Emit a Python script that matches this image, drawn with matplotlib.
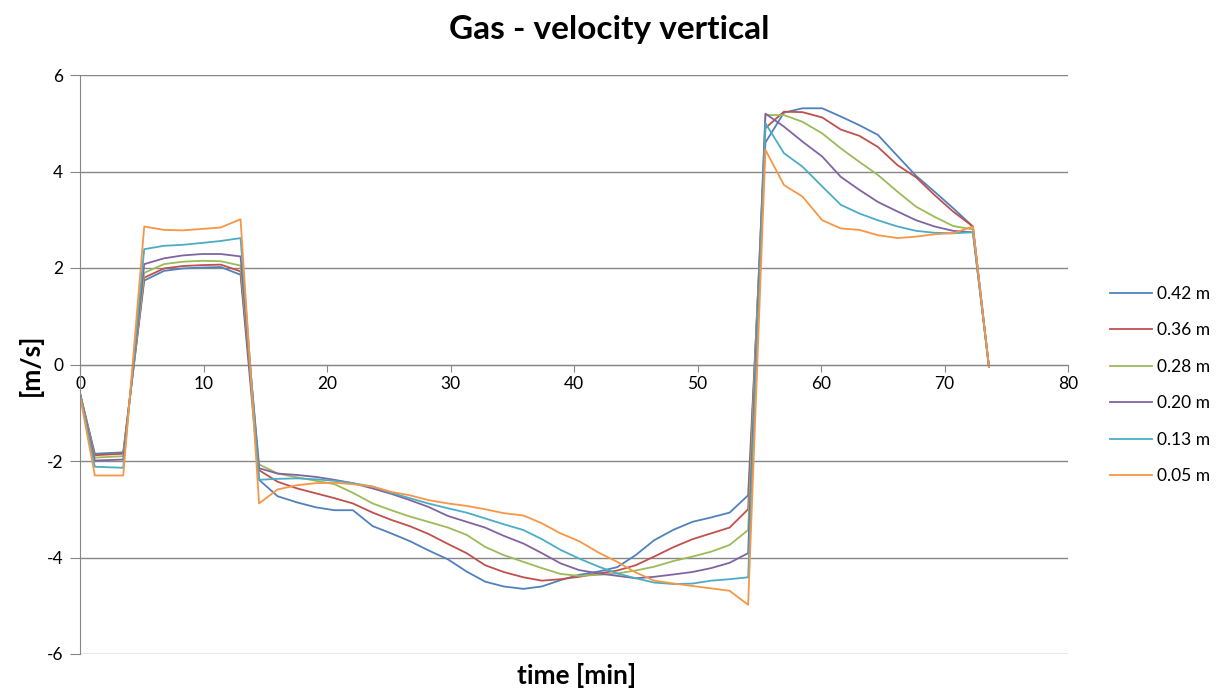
import matplotlib.pyplot as plt

# time [min]
time_min = [0.0, 1.2, 3.5, 5.2, 6.8, 8.3, 9.9, 11.4, 13.0, 14.5,
            16.0, 17.6, 19.1, 20.6, 22.1, 23.7, 25.2, 26.7, 28.2, 29.8,
            31.3, 32.8, 34.3, 35.9, 37.4, 38.9, 40.4, 42.0, 43.5, 45.0,
            46.5, 48.1, 49.6, 51.1, 52.6, 54.1, 55.5, 57.0, 58.5, 60.1,
            61.6, 63.1, 64.6, 66.2, 67.7, 69.2, 70.7, 72.3, 73.6]

v_042 = [-0.6, -1.85, -1.82, 1.74, 1.94, 1.99, 2.01, 2.02, 1.86, -2.39,
         -2.73, -2.86, -2.96, -3.02, -3.02, -3.35, -3.50, -3.66, -3.85, -4.04,
         -4.29, -4.50, -4.60, -4.65, -4.60, -4.47, -4.36, -4.29, -4.20, -3.95,
         -3.64, -3.42, -3.26, -3.17, -3.07, -2.71, 4.60, 5.22, 5.31, 5.31,
         5.14, 4.96, 4.76, 4.32, 3.91, 3.58, 3.24, 2.86, -0.05]

v_036 = [-0.6, -1.88, -1.85, 1.80, 1.99, 2.04, 2.06, 2.07, 1.93, -2.19,
         -2.43, -2.57, -2.67, -2.77, -2.88, -3.07, -3.22, -3.35, -3.51, -3.72,
         -3.91, -4.16, -4.30, -4.41, -4.48, -4.45, -4.40, -4.33, -4.27, -4.16,
         -3.98, -3.78, -3.62, -3.50, -3.38, -3.00, 4.90, 5.24, 5.23, 5.12,
         4.87, 4.74, 4.51, 4.13, 3.88, 3.51, 3.17, 2.86, -0.05]

v_028 = [-0.6, -1.93, -1.90, 1.90, 2.08, 2.13, 2.15, 2.14, 2.05, -2.07,
         -2.26, -2.34, -2.41, -2.48, -2.66, -2.88, -3.02, -3.15, -3.26, -3.38,
         -3.53, -3.78, -3.95, -4.09, -4.22, -4.34, -4.38, -4.36, -4.33, -4.27,
         -4.19, -4.07, -3.98, -3.88, -3.74, -3.43, 5.17, 5.17, 5.03, 4.79,
         4.48, 4.20, 3.93, 3.58, 3.27, 3.06, 2.87, 2.80, -0.05]

v_020 = [-0.6, -1.99, -1.97, 2.08, 2.20, 2.26, 2.29, 2.29, 2.24, -2.15,
         -2.26, -2.29, -2.33, -2.39, -2.46, -2.57, -2.68, -2.81, -2.95, -3.14,
         -3.26, -3.38, -3.55, -3.71, -3.91, -4.12, -4.26, -4.33, -4.38, -4.43,
         -4.40, -4.35, -4.30, -4.22, -4.11, -3.91, 5.20, 4.93, 4.62, 4.31,
         3.89, 3.62, 3.37, 3.17, 2.99, 2.86, 2.77, 2.74, -0.05]

v_013 = [-0.6, -2.12, -2.14, 2.39, 2.46, 2.48, 2.52, 2.56, 2.62, -2.39,
         -2.37, -2.36, -2.38, -2.41, -2.46, -2.53, -2.66, -2.77, -2.88, -2.98,
         -3.07, -3.19, -3.31, -3.43, -3.62, -3.84, -4.02, -4.19, -4.33, -4.43,
         -4.52, -4.55, -4.54, -4.48, -4.45, -4.41, 5.00, 4.38, 4.10, 3.69,
         3.31, 3.13, 2.99, 2.86, 2.77, 2.73, 2.72, 2.74, -0.05]

v_005 = [-0.65, -2.30, -2.30, 2.86, 2.79, 2.78, 2.81, 2.84, 3.01, -2.88,
         -2.59, -2.50, -2.46, -2.45, -2.48, -2.53, -2.64, -2.71, -2.81, -2.88,
         -2.93, -3.00, -3.08, -3.13, -3.29, -3.50, -3.66, -3.90, -4.09, -4.31,
         -4.48, -4.54, -4.59, -4.64, -4.69, -4.98, 4.45, 3.72, 3.48, 2.99,
         2.82, 2.79, 2.68, 2.62, 2.65, 2.70, 2.72, 2.86, -0.05]

series = [("0.42 m", v_042, "#4F81BD"),
          ("0.36 m", v_036, "#C0504D"),
          ("0.28 m", v_028, "#9BBB59"),
          ("0.20 m", v_020, "#8064A2"),
          ("0.13 m", v_013, "#4BACC6"),
          ("0.05 m", v_005, "#F79646")]

x_ticks = [0, 10, 20, 30, 40, 50, 60, 70, 80]
y_ticks = [-6, -4, -2, 0, 2, 4, 6]

plt.rcParams['font.family'] = ['Lato', 'DejaVu Sans']
plt.rcParams['axes.unicode_minus'] = False
grid_col = "#868686"

fig = plt.figure(figsize=(12.2, 6.91), dpi=100)
ax = fig.add_axes([80 / 1220, 37 / 691, 988 / 1220, 579 / 691])

for label, vals, col in series:
    ax.plot(time_min, vals, color=col, lw=1.3, label=label)

ax.set_xlim(0, 80)
ax.set_ylim(-6, 6)
ax.set_xticks(x_ticks)
ax.set_yticks(y_ticks)
ax.yaxis.grid(True, color=grid_col, lw=1.0)
ax.set_axisbelow(True)

for s in ["top", "right"]:
    ax.spines[s].set_visible(False)
ax.spines["bottom"].set_position(("data", 0))
ax.spines["bottom"].set_color(grid_col)
ax.spines["left"].set_color(grid_col)
ax.tick_params(axis="x", direction="out", length=5, color=grid_col,
               labelsize=12.5, pad=3)
ax.tick_params(axis="y", direction="out", length=7, color=grid_col,
               labelsize=12.5, pad=5)

fig.text(0.499, 0.958, "Gas - velocity vertical", ha="center", va="center",
         fontsize=24, fontweight="bold")
fig.text(577 / 1220, 1 - 676 / 691, "time [min]", ha="center", va="center",
         fontsize=19, fontweight="bold")
fig.text(30 / 1220, 1 - 365 / 691, "[m/s]", ha="center", va="center",
         rotation=90, fontsize=19, fontweight="bold")

ax.legend(loc="center left", bbox_to_anchor=(1110 / 1220, 1 - 385 / 691),
          bbox_transform=fig.transFigure, frameon=False, fontsize=12.5,
          handlelength=2.4, handletextpad=0.3, labelspacing=1.18,
          borderpad=0, borderaxespad=0)

fig.savefig("out.png", dpi=100)
